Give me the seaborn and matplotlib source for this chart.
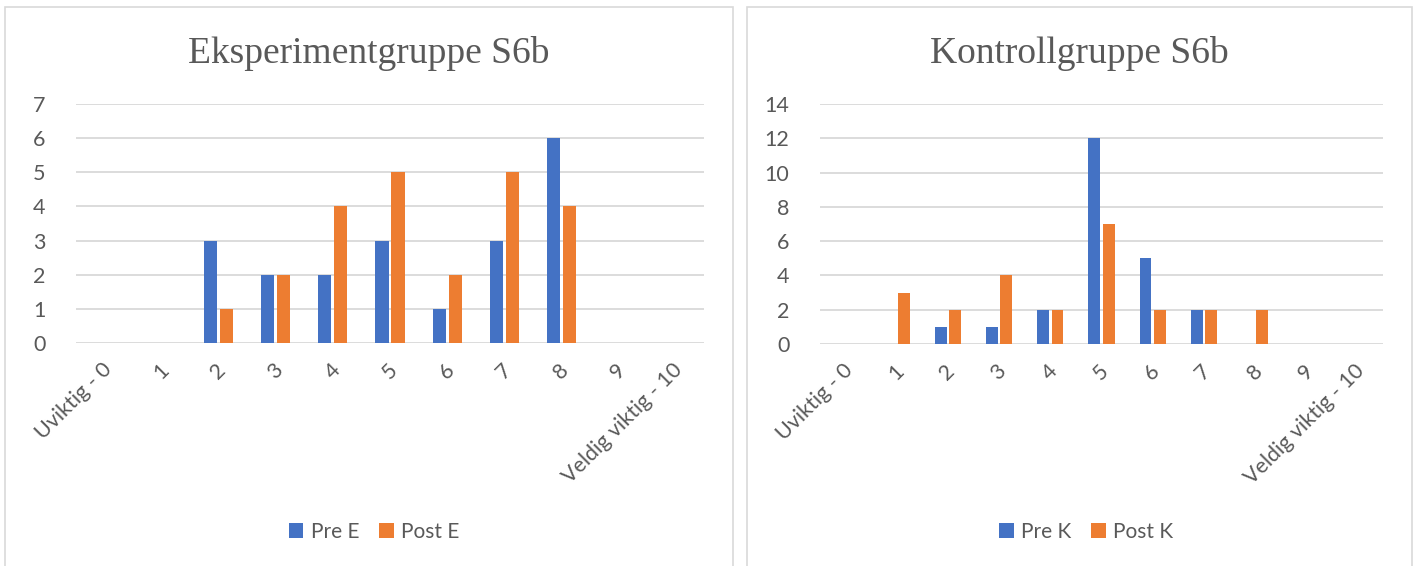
import matplotlib
matplotlib.use("Agg")
import matplotlib.pyplot as plt
from matplotlib.patches import Rectangle, Patch
import matplotlib.transforms as mtransforms
import seaborn as sns
import pandas as pd

# Score categories on the 0-10 scale
categories = ["Uviktig - 0", "1", "2", "3", "4", "5", "6", "7", "8", "9", "Veldig viktig - 10"]

# Experiment group counts
pre_e = [0, 0, 3, 2, 2, 3, 1, 3, 6, 0, 0]
post_e = [0, 0, 1, 2, 4, 5, 2, 5, 4, 0, 0]

# Control group counts
pre_k = [0, 0, 1, 1, 2, 12, 5, 2, 0, 0, 0]
post_k = [0, 3, 2, 4, 2, 7, 2, 2, 2, 0, 0]

titles = ["Eksperimentgruppe S6b", "Kontrollgruppe S6b"]
series_e = ["Pre E", "Post E"]
series_k = ["Pre K", "Post K"]
yticks_e = [0, 1, 2, 3, 4, 5, 6, 7]
yticks_k = [0, 2, 4, 6, 8, 10, 12, 14]

BLUE = "#4472C4"
ORANGE = "#ED7D31"
TEXT = "#595959"
GRID = "#D9D9D9"

sns.set_theme(style="white")
plt.rcParams["font.family"] = ["Lato", "DejaVu Sans"]

W, H = 1416, 566
fig = plt.figure(figsize=(W / 100, H / 100), dpi=100)


def px_box(x0, y0, x1, y1):
    return [x0 / W, 1 - y1 / H, (x1 - x0) / W, (y1 - y0) / H]


def long_frame(pre, post, names):
    return pd.DataFrame({
        "kategori": categories * 2,
        "antall": pre + post,
        "serie": [names[0]] * len(categories) + [names[1]] * len(categories),
    })


panels = [
    dict(frame=(5, 7, 733, 600), axes=(76, 104, 704, 343), data=long_frame(pre_e, post_e, series_e),
         names=series_e, yticks=yticks_e, title=titles[0], legend_x=374),
    dict(frame=(747, 7, 1412, 600), axes=(820, 104, 1383, 344), data=long_frame(pre_k, post_k, series_k),
         names=series_k, yticks=yticks_k, title=titles[1], legend_x=1086),
]

for p in panels:
    fx0, fy0, fx1, fy1 = p["frame"]
    # light panel frame around each chart
    fig.patches.append(Rectangle((fx0 / W, 1 - fy1 / H), (fx1 - fx0) / W, (fy1 - fy0) / H,
                                 transform=fig.transFigure, facecolor="none",
                                 edgecolor=GRID, linewidth=1.2, zorder=0))

    ax = fig.add_axes(px_box(*p["axes"]))
    sns.barplot(data=p["data"], x="kategori", y="antall", hue="serie",
                order=categories, hue_order=p["names"],
                palette=[BLUE, ORANGE], saturation=1, width=0.56, gap=0.18,
                linewidth=0, legend=False, ax=ax, zorder=3)

    ax.set_ylim(p["yticks"][0], p["yticks"][-1])
    ax.set_yticks(p["yticks"])
    ax.set_xlim(-0.5, len(categories) - 0.5)
    ax.yaxis.grid(True, color=GRID, linewidth=1.3, zorder=0)
    ax.set_axisbelow(True)
    for s in ax.spines.values():
        s.set_visible(False)
    ax.set_xlabel("")
    ax.set_ylabel("")
    ax.tick_params(axis="y", length=0, pad=22, labelsize=15.5, labelcolor=TEXT)
    ax.tick_params(axis="x", length=0, pad=17, labelsize=15.5, labelcolor=TEXT)
    shift = mtransforms.ScaledTranslation(4 / 100, 0, fig.dpi_scale_trans)
    for lab in ax.get_xticklabels():
        lab.set_rotation(45)
        lab.set_ha("right")
        lab.set_va("center")
        lab.set_rotation_mode("anchor")
        lab.set_transform(lab.get_transform() + shift)

    # chart title centred over its panel
    fig.text(((fx0 + fx1) / 2) / W, 1 - 63 / H, p["title"],
             ha="center", va="baseline", fontsize=27, color=TEXT,
             family=["Liberation Serif", "DejaVu Serif"])

    handles = [Patch(facecolor=BLUE, edgecolor="none"), Patch(facecolor=ORANGE, edgecolor="none")]
    fig.legend(handles, p["names"], loc="center", ncol=2, frameon=False,
               bbox_to_anchor=(p["legend_x"] / W, 1 - 532 / H),
               fontsize=15, labelcolor=TEXT, handlelength=0.7, handleheight=0.7,
               handletextpad=0.35, columnspacing=0.95, borderpad=0)

fig.savefig("out.png", dpi=100, facecolor="white")
